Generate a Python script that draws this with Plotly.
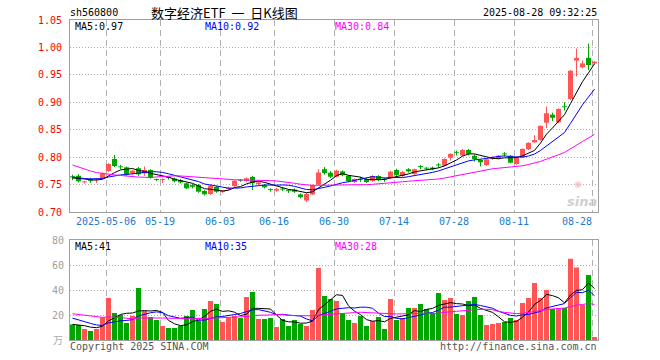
import plotly.graph_objects as go

# ---------------- data ----------------
opens = [0.765, 0.766, 0.754, 0.760, 0.759, 0.7614, 0.7747, 0.7966, 0.782, 0.7815,
         0.7705, 0.7797, 0.7705, 0.7766, 0.759, 0.7585, 0.7625, 0.761, 0.758, 0.7523,
         0.749, 0.749, 0.7383, 0.7328, 0.746, 0.7365, 0.742, 0.7474, 0.7575, 0.7565,
         0.764, 0.751, 0.749, 0.7405, 0.739, 0.7415, 0.7385, 0.741, 0.732, 0.721,
         0.732, 0.750, 0.778, 0.7717, 0.7643, 0.774, 0.766, 0.7547, 0.7595, 0.7602,
         0.7565, 0.7656, 0.7595, 0.7614, 0.7766, 0.7656, 0.778, 0.769, 0.7825, 0.7795,
         0.781, 0.7855, 0.7845, 0.799, 0.8085, 0.803, 0.813, 0.8026, 0.7948, 0.7857,
         0.7966, 0.797, 0.8055, 0.8026, 0.7875, 0.7997, 0.8143, 0.827, 0.8313, 0.8628,
         0.8775, 0.8636, 0.8915, 0.906, 0.976, 0.9638, 0.981, 0.971]
closes = [0.763, 0.756, 0.755, 0.757, 0.760, 0.7705, 0.7875, 0.7838, 0.7815, 0.7687,
          0.7753, 0.7687, 0.7766, 0.7626, 0.7583, 0.759, 0.762, 0.756, 0.754, 0.7432,
          0.746, 0.737, 0.7323, 0.748, 0.737, 0.737, 0.744, 0.757, 0.757, 0.7614,
          0.7524, 0.754, 0.745, 0.740, 0.742, 0.741, 0.738, 0.737, 0.727, 0.733,
          0.749, 0.772, 0.771, 0.7643, 0.7753, 0.767, 0.7565, 0.7602, 0.759, 0.7547,
          0.7656, 0.758, 0.759, 0.7735, 0.7675, 0.7729, 0.774, 0.778, 0.782, 0.779,
          0.778, 0.785, 0.7966, 0.806, 0.808, 0.813, 0.806, 0.7966, 0.7906, 0.796,
          0.800, 0.8026, 0.805, 0.790, 0.799, 0.815, 0.826, 0.8313, 0.857, 0.880,
          0.8718, 0.8877, 0.891, 0.9575, 0.981, 0.971, 0.968, 0.974]
highs = [0.768, 0.769, 0.757, 0.762, 0.762, 0.772, 0.789, 0.804, 0.786, 0.783,
         0.777, 0.782, 0.783, 0.778, 0.761, 0.761, 0.764, 0.763, 0.760, 0.754,
         0.751, 0.751, 0.740, 0.750, 0.748, 0.740, 0.746, 0.758, 0.760, 0.763,
         0.766, 0.756, 0.751, 0.743, 0.744, 0.744, 0.741, 0.743, 0.734, 0.735,
         0.750, 0.778, 0.782, 0.775, 0.777, 0.776, 0.767, 0.761, 0.764, 0.762,
         0.767, 0.767, 0.763, 0.775, 0.779, 0.775, 0.780, 0.779, 0.786, 0.782,
         0.783, 0.789, 0.798, 0.807, 0.812, 0.815, 0.815, 0.805, 0.796, 0.797,
         0.801, 0.804, 0.809, 0.804, 0.800, 0.816, 0.827, 0.840, 0.858, 0.892,
         0.881, 0.889, 0.900, 0.959, 0.998, 0.976, 1.007, 0.975]
lows = [0.758, 0.754, 0.752, 0.753, 0.753, 0.760, 0.773, 0.782, 0.778, 0.766,
        0.768, 0.766, 0.766, 0.761, 0.756, 0.753, 0.759, 0.754, 0.752, 0.742,
        0.743, 0.735, 0.730, 0.731, 0.735, 0.735, 0.740, 0.746, 0.755, 0.755,
        0.740, 0.749, 0.743, 0.737, 0.737, 0.738, 0.735, 0.735, 0.725, 0.718,
        0.731, 0.749, 0.768, 0.762, 0.763, 0.765, 0.754, 0.753, 0.755, 0.753,
        0.755, 0.756, 0.755, 0.760, 0.766, 0.764, 0.772, 0.768, 0.778, 0.776,
        0.776, 0.781, 0.783, 0.794, 0.803, 0.802, 0.803, 0.792, 0.783, 0.784,
        0.795, 0.796, 0.801, 0.789, 0.786, 0.799, 0.813, 0.826, 0.830, 0.853,
        0.866, 0.862, 0.885, 0.904, 0.947, 0.962, 0.959, 0.969]
volumes = [12.5, 12, 8.8, 7.2, 8.8, 18.1, 33.6, 21.6, 20, 13.6,
           19.2, 41.6, 23.2, 18.4, 16, 11.2, 9.6, 9.6, 11.2, 19.2,
           24, 15.2, 24.8, 31.2, 28.8, 14.4, 17.6, 19.2, 17.6, 34.4,
           38.4, 16.8, 16.8, 17.6, 10.4, 16.8, 11.2, 16, 12.8, 11.2,
           24, 57.6, 35.2, 32.8, 31.2, 21.6, 16, 13.6, 19.2, 11.2,
           15.2, 18.4, 8.8, 32.8, 16, 17.6, 25.6, 25.6, 28.8, 24.8,
           21.6, 37.6, 32, 33.6, 20.8, 20, 31.2, 34.4, 20, 12,
           12.8, 13.6, 14.4, 17.6, 16, 29.6, 33.6, 45.6, 33.6, 40,
           24.8, 24.8, 25.6, 65, 58, 28, 52, 2.4]
# sessions before the visible window (only used to warm up the moving averages)
prior_closes = [0.872, 0.866, 0.858, 0.846, 0.826,
                0.825, 0.82, 0.812, 0.806, 0.80, 0.795, 0.787, 0.778, 0.724, 0.73,
                0.738, 0.75, 0.76, 0.768, 0.772,
                0.772, 0.768, 0.762, 0.764, 0.762, 0.758, 0.762, 0.765, 0.762]
prior_volumes = [30, 28, 26, 30, 27, 25, 22, 30, 35, 30,
                 24, 20, 18, 16, 15, 14, 16, 18, 15, 16,
                 24, 26, 20, 22, 20.5, 14, 12, 13, 11]
tick_index = [6, 15, 25, 34, 44, 54, 64, 74, 87]
tick_labels = ["2025-05-06", "05-19", "06-03", "06-16", "06-30",
               "07-14", "07-28", "08-11", "08-28"]
price_ticks = [0.70, 0.75, 0.80, 0.85, 0.90, 0.95, 1.00, 1.05]
volume_ticks = [20, 40, 60, 80]
code = "sh560800"
title = "数字经济ETF \u00a0一\u00a0 日K线图"
stamp = "2025-08-28 09:32:25"

# ---------------- helpers ----------------
def moving_avg(prior, values, n):
    full = list(prior) + list(values)
    off = len(prior)
    return [sum(full[off + i - n + 1: off + i + 1]) / n for i in range(len(values))]

N = len(closes)
idx = list(range(N))
RED = "#ff5555"
GREEN = "#00a600"
colors = [RED if c >= o else GREEN for o, c in zip(opens, closes)]

ma5 = moving_avg(prior_closes, closes, 5)
ma10 = moving_avg(prior_closes, closes, 10)
ma30 = moving_avg(prior_closes, closes, 30)
vma5 = moving_avg(prior_volumes, volumes, 5)
vma10 = moving_avg(prior_volumes, volumes, 10)
vma30 = moving_avg(prior_volumes, volumes, 30)

MONO = "DejaVu Sans Mono"
W, H = 660, 360
ML, MR, MT, MB = 70, 62, 20, 20
PW, PH = W - ML - MR, H - MT - MB


def px_x(px):
    return (px - ML) / PW


def px_y(py):
    return (H - MB - py) / PH


fig = go.Figure()

# wicks
for col in (RED, GREEN):
    wx, wy = [], []
    for i in idx:
        if colors[i] == col:
            wx += [i, i, None]
            wy += [lows[i], highs[i], None]
    fig.add_trace(go.Scatter(x=wx, y=wy, mode="lines", line=dict(color=col, width=1),
                             hoverinfo="skip", xaxis="x", yaxis="y"))

# bodies
min_body = 0.0017
fig.add_trace(go.Bar(x=idx, y=[max(abs(c - o), min_body) for o, c in zip(opens, closes)],
                     base=[min(o, c) for o, c in zip(opens, closes)],
                     width=5 / 6, marker=dict(color=colors, line=dict(width=0)),
                     xaxis="x", yaxis="y"))

for vals, col in ((ma5, "#000000"), (ma10, "#0000ff"), (ma30, "#ff00ff")):
    fig.add_trace(go.Scatter(x=idx, y=vals, mode="lines", line=dict(color=col, width=1),
                             xaxis="x", yaxis="y"))

# volume
fig.add_trace(go.Bar(x=idx, y=volumes, width=5 / 6,
                     marker=dict(color=colors, line=dict(width=0)),
                     xaxis="x2", yaxis="y2"))
for vals, col in ((vma5, "#000000"), (vma10, "#0000ff"), (vma30, "#ff00ff")):
    fig.add_trace(go.Scatter(x=idx, y=vals, mode="lines", line=dict(color=col, width=1),
                             xaxis="x2", yaxis="y2"))

off = 2.5 / 6
xrange = [-off, N - off]
tickvals = [k - off for k in tick_index]
# the last date label is pulled left so it stays inside the frame
ticktext = tick_labels[:-1] + [tick_labels[-1] + "\u00a0" * 5]
frame = dict(showline=True, mirror=True, linecolor="#a0a0a0", linewidth=1, zeroline=False)

fig.update_layout(
    width=W, height=H, margin=dict(l=ML, r=MR, t=MT, b=MB, autoexpand=False),
    paper_bgcolor="white", plot_bgcolor="white", showlegend=False, barmode="overlay",
    font=dict(family=MONO, size=10, color="#000"), hovermode=False,
    xaxis=dict(domain=[0, 1], range=xrange, anchor="y", tickvals=tickvals, ticktext=ticktext,
               tickfont=dict(color="#1a7bd0", size=10, family=MONO), showgrid=True,
               gridcolor="#b0b0b0", griddash="6px,4px", gridwidth=1, ticks="", **frame),
    yaxis=dict(domain=[(H - MB - 212) / PH, 1], range=[0.70, 1.05], anchor="x",
               tickvals=price_ticks, ticktext=[f"{v:.2f}" for v in price_ticks],
               tickfont=dict(color="#ff0000", size=10, family=MONO), showgrid=True,
               gridcolor="#b0b0b0", griddash="1px,2px", ticks="", automargin=False,
               ticklabelstandoff=5, **frame),
    xaxis2=dict(domain=[0, 1], range=xrange, anchor="y2", matches="x", tickvals=tickvals,
                showticklabels=False, showgrid=True, gridcolor="#b0b0b0",
                griddash="6px,4px", ticks="", **frame),
    yaxis2=dict(domain=[0, (H - MB - 240) / PH], range=[0, 80], anchor="x2",
                tickvals=volume_ticks, ticktext=[str(v) for v in volume_ticks],
                tickfont=dict(color="#a0a0a0", size=10, family=MONO), showgrid=True,
                gridcolor="#b0b0b0", griddash="1px,2px", ticks="", automargin=False,
                ticklabelstandoff=3, **frame),
)


def note(text, px, py, anchor="left", color="#000", size=10, family=MONO, **kw):
    fig.add_annotation(text=text, x=px_x(px), y=px_y(py), xref="paper", yref="paper",
                       xanchor=anchor, yanchor="middle", showarrow=False,
                       font=dict(color=color, size=size, family=family), borderpad=0, **kw)


note(code, 69, 13)
note(title, 224, 13, anchor="center", size=13, family="Noto Sans CJK SC")
note(stamp, 598, 13, anchor="right")
note(f"MA5:{ma5[-1]:.2f}", 74, 26)
note(f"MA10:{ma10[-1]:.2f}", 204, 26, color="#0000ff")
note(f"MA30:{ma30[-1]:.2f}", 334, 26, color="#ff00ff")
note(f"MA5:{vma5[-1]:.0f}", 74, 246)
note(f"MA10:{vma10[-1]:.0f}", 204, 246, color="#0000ff")
note(f"MA30:{vma30[-1]:.0f}", 334, 246, color="#ff00ff")
note("Copyright 2025 SINA.COM", 69, 346, color="#555555")
note("http://finance.sina.com.cn", 598, 346, anchor="right", color="#555555")
note("万", 64, 339, anchor="right", color="#aaaaaa", size=10, family="Noto Sans CJK SC")
note("<b><i>sina</i></b>", 582, 201, anchor="center", color="#cfcfcf", size=13,
     family="DejaVu Sans")
note("◉", 578, 184, anchor="center", color="#f4c4c4", size=9, family="DejaVu Sans")

fig.write_html("out.html", config={"displayModeBar": False, "staticPlot": True},
               post_script="document.body.style.margin='0';document.body.style.overflow='hidden';")
